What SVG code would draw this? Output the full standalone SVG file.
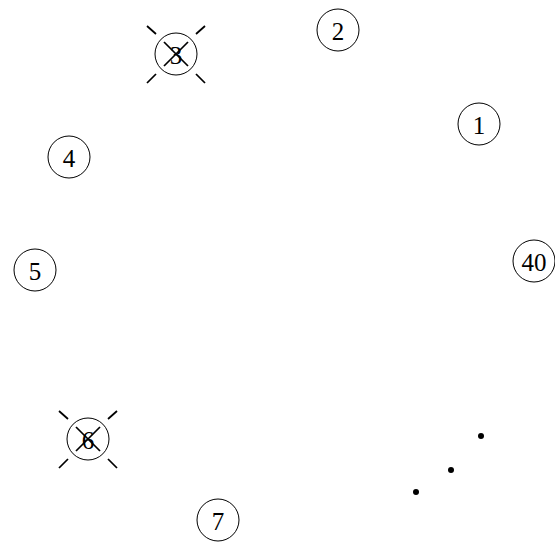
<svg xmlns="http://www.w3.org/2000/svg" width="555" height="545" viewBox="0 0 555 545">
<style>
.n circle{fill:none;stroke:#000;stroke-width:1}
.n text{font-family:"Liberation Serif","Times New Roman",serif;font-size:25px;text-anchor:middle;dominant-baseline:central;fill:#000}
.x line{stroke:#000;stroke-width:1.7}
.dot{fill:#000}
</style>
<rect width="555" height="545" fill="#fff"/>
<g id="node-1" class="n"><circle cx="479" cy="124" r="21"/><text x="479" y="125">1</text></g>
<g id="node-2" class="n"><circle cx="338" cy="30" r="21"/><text x="338" y="31">2</text></g>
<g id="node-3" class="n"><circle cx="176" cy="54" r="21"/><text x="176" y="55">3</text>
<g class="x"><line x1="164" y1="42" x2="188" y2="66"/><line x1="188" y1="42" x2="164" y2="66"/>
<line x1="147" y1="26" x2="156" y2="34"/><line x1="205" y1="26" x2="196" y2="34"/><line x1="147" y1="83" x2="156" y2="74"/><line x1="205" y1="83" x2="196" y2="74"/></g></g>
<g id="node-4" class="n"><circle cx="69" cy="157" r="21"/><text x="69" y="158">4</text></g>
<g id="node-5" class="n"><circle cx="35" cy="270" r="21"/><text x="35" y="271">5</text></g>
<g id="node-6" class="n"><circle cx="88" cy="439" r="21"/><text x="88" y="440">6</text>
<g class="x"><line x1="76" y1="427" x2="100" y2="451"/><line x1="100" y1="427" x2="76" y2="451"/>
<line x1="59" y1="411" x2="68" y2="419"/><line x1="117" y1="411" x2="108" y2="419"/><line x1="59" y1="468" x2="68" y2="459"/><line x1="117" y1="468" x2="108" y2="459"/></g></g>
<g id="node-7" class="n"><circle cx="218" cy="520" r="21"/><text x="218" y="521">7</text></g>
<g id="node-40" class="n"><circle cx="534" cy="261" r="21"/><text x="534" y="262">40</text></g>
<g id="connectors"></g>
<g id="ellipsis"><circle class="dot" cx="481" cy="436" r="3"/><circle class="dot" cx="451" cy="470" r="3"/><circle class="dot" cx="416" cy="492" r="3"/></g>
</svg>
